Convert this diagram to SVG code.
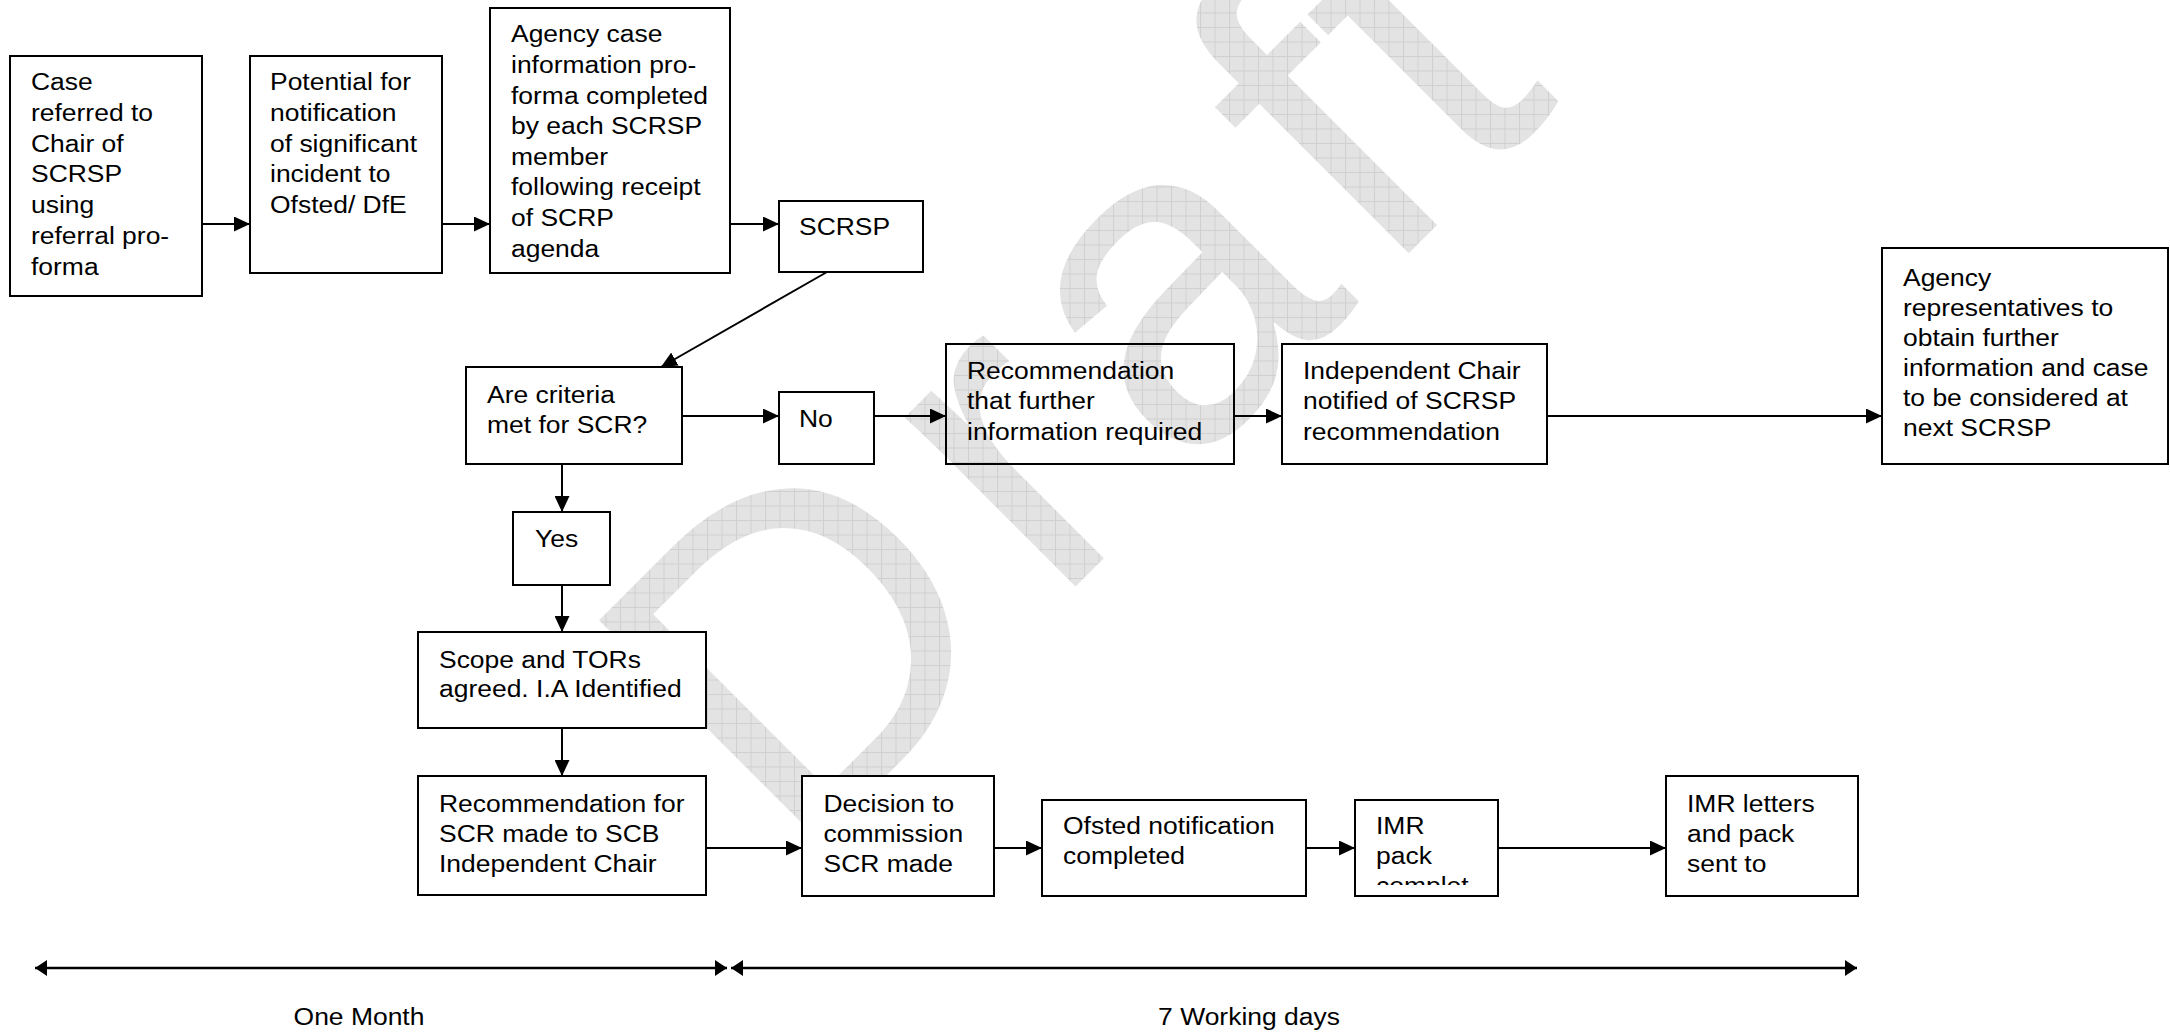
<svg xmlns="http://www.w3.org/2000/svg" width="2170" height="1032" viewBox="0 0 2170 1032">
<style>
.box{fill:#fff;stroke:#000;stroke-width:2}
.boxc{fill:none;stroke:#000;stroke-width:2}
.t{font-family:"Liberation Sans",Arial,sans-serif;font-size:24.5px;fill:#000}
.c{fill:none;stroke:#000;stroke-width:2;marker-end:url(#ah)}
.tl{fill:none;stroke:#000;stroke-width:2.5;marker-start:url(#ah2);marker-end:url(#ah2)}
.wm{font-family:"Liberation Sans",Arial,sans-serif;font-size:455px;fill:url(#grid)}
</style>
<defs>
<marker id="ah" markerUnits="userSpaceOnUse" markerWidth="16" markerHeight="15" refX="16" refY="7.5" orient="auto"><path d="M0,0 L16,7.5 L0,15 z" fill="#000"/></marker>
<marker id="ah2" markerUnits="userSpaceOnUse" markerWidth="12" markerHeight="16" refX="12" refY="8" orient="auto-start-reverse"><path d="M0,0 L12,8 L0,16 z" fill="#000"/></marker>
<pattern id="grid" width="14.5" height="14.5" patternUnits="userSpaceOnUse" patternTransform="rotate(45)"><rect width="14.5" height="14.5" fill="#e3e3e3"/><path d="M0,0.5 H14.5 M0.5,0 V14.5" stroke="#d0d0d0" stroke-width="1"/></pattern>
<clipPath id="clip3"><rect x="490" y="8" width="240" height="254"/></clipPath>
<clipPath id="clipImr"><rect x="1355" y="800" width="143" height="85"/></clipPath>
</defs>
<rect width="2170" height="1032" fill="#fff"/>
<g id="watermark"><text class="wm" x="0" y="0" dx="0 38 29 29 4" transform="translate(794 868) rotate(-45)">Draft</text></g>

<g id="n1"><rect class="box" x="10" y="56" width="192" height="240"/>
<text class="t" transform="translate(31 0) scale(1.08 1)"><tspan x="0" y="90">Case</tspan><tspan x="0" y="120.8">referred to</tspan><tspan x="0" y="151.6">Chair of</tspan><tspan x="0" y="182.4">SCRSP</tspan><tspan x="0" y="213.2">using</tspan><tspan x="0" y="244">referral pro-</tspan><tspan x="0" y="274.8">forma</tspan></text></g>

<g id="n2"><rect class="box" x="250" y="56" width="192" height="217"/>
<text class="t" transform="translate(270 0) scale(1.08 1)"><tspan x="0" y="90">Potential for</tspan><tspan x="0" y="120.8">notification</tspan><tspan x="0" y="151.6">of significant</tspan><tspan x="0" y="182.4">incident to</tspan><tspan x="0" y="213.2">Ofsted/ DfE</tspan></text></g>

<g id="n3"><rect class="box" x="490" y="8" width="240" height="265"/>
<g clip-path="url(#clip3)"><text class="t" transform="translate(511 0) scale(1.08 1)"><tspan x="0" y="42.5">Agency case</tspan><tspan x="0" y="73.1">information pro-</tspan><tspan x="0" y="103.7">forma completed</tspan><tspan x="0" y="134.3">by each SCRSP</tspan><tspan x="0" y="164.9">member</tspan><tspan x="0" y="195.5">following receipt</tspan><tspan x="0" y="226.1">of SCRP</tspan><tspan x="0" y="256.7">agenda</tspan></text></g></g>

<g id="n4"><rect class="box" x="779" y="201" width="144" height="71"/>
<text class="t" transform="translate(799 0) scale(1.08 1)"><tspan x="0" y="235">SCRSP</tspan></text></g>

<g id="n5"><rect class="box" x="466" y="367" width="216" height="97"/>
<text class="t" transform="translate(487 0) scale(1.08 1)"><tspan x="0" y="403.5">Are criteria</tspan><tspan x="0" y="433.5">met for SCR?</tspan></text></g>

<g id="n6"><rect class="box" x="779" y="392" width="95" height="72"/>
<text class="t" transform="translate(799 0) scale(1.08 1)"><tspan x="0" y="427.5">No</tspan></text></g>

<g id="n7"><rect class="boxc" x="946" y="344" width="288" height="120"/>
<text class="t" transform="translate(967 0) scale(1.08 1)"><tspan x="0" y="379">Recommendation</tspan><tspan x="0" y="409.5">that further</tspan><tspan x="0" y="440">information required</tspan></text></g>

<g id="n8"><rect class="box" x="1282" y="344" width="265" height="120"/>
<text class="t" transform="translate(1303 0) scale(1.08 1)"><tspan x="0" y="379">Independent Chair</tspan><tspan x="0" y="409.5">notified of SCRSP</tspan><tspan x="0" y="440">recommendation</tspan></text></g>

<g id="n9"><rect class="box" x="1882" y="248" width="286" height="216"/>
<text class="t" transform="translate(1903 0) scale(1.08 1)"><tspan x="0" y="286.5">Agency</tspan><tspan x="0" y="316.5">representatives to</tspan><tspan x="0" y="346.5">obtain further</tspan><tspan x="0" y="376.5">information and case</tspan><tspan x="0" y="406.5">to be considered at</tspan><tspan x="0" y="436.5">next SCRSP</tspan></text></g>

<g id="n10"><rect class="box" x="513" y="512" width="97" height="73"/>
<text class="t" transform="translate(535 0) scale(1.08 1)"><tspan x="0" y="547">Yes</tspan></text></g>

<g id="n11"><rect class="box" x="418" y="632" width="288" height="96"/>
<text class="t" transform="translate(439 0) scale(1.08 1)"><tspan x="0" y="668">Scope and TORs</tspan><tspan x="0" y="697.5">agreed. I.A Identified</tspan></text></g>

<g id="n12"><rect class="box" x="418" y="776" width="288" height="119"/>
<text class="t" transform="translate(439 0) scale(1.08 1)"><tspan x="0" y="812">Recommendation for</tspan><tspan x="0" y="842">SCR made to SCB</tspan><tspan x="0" y="872">Independent Chair</tspan></text></g>

<g id="n13"><rect class="box" x="802" y="776" width="192" height="120"/>
<text class="t" transform="translate(823.5 0) scale(1.08 1)"><tspan x="0" y="811.7">Decision to</tspan><tspan x="0" y="841.7">commission</tspan><tspan x="0" y="871.7">SCR made</tspan></text></g>

<g id="n14"><rect class="box" x="1042" y="800" width="264" height="96"/>
<text class="t" transform="translate(1063 0) scale(1.08 1)"><tspan x="0" y="834.3">Ofsted notification</tspan><tspan x="0" y="864.3">completed</tspan></text></g>

<g id="n15"><rect class="box" x="1355" y="800" width="143" height="96"/>
<g clip-path="url(#clipImr)"><text class="t" transform="translate(1376 0) scale(1.08 1)"><tspan x="0" y="834.3">IMR</tspan><tspan x="0" y="864.3">pack</tspan><tspan x="0" y="894.3">complet</tspan></text></g></g>

<g id="n16"><rect class="box" x="1666" y="776" width="192" height="120"/>
<text class="t" transform="translate(1687 0) scale(1.08 1)"><tspan x="0" y="811.7">IMR letters</tspan><tspan x="0" y="841.7">and pack</tspan><tspan x="0" y="871.7">sent to</tspan></text></g>

<g id="connectors">
<path class="c" d="M202,224 H250"/>
<path class="c" d="M442,224 H490"/>
<path class="c" d="M730,224 H779"/>
<path class="c" d="M827,272 L661,367"/>
<path class="c" d="M682,416 H779"/>
<path class="c" d="M874,416 H946"/>
<path class="c" d="M1234,416 H1282"/>
<path class="c" d="M1547,416 H1882"/>
<path class="c" d="M562,464 V512"/>
<path class="c" d="M562,585 V632"/>
<path class="c" d="M562,728 V776"/>
<path class="c" d="M706,848 H802"/>
<path class="c" d="M994,848 H1042"/>
<path class="c" d="M1306,848 H1355"/>
<path class="c" d="M1498,848 H1666"/>
</g>

<g id="timeline">
<path class="tl" d="M35,968 H727"/>
<path class="tl" d="M731,968 H1857"/>
<text class="t" text-anchor="middle" transform="translate(359 0) scale(1.08 1)"><tspan x="0" y="1025">One Month</tspan></text>
<text class="t" text-anchor="middle" transform="translate(1249 0) scale(1.08 1)"><tspan x="0" y="1025">7 Working days</tspan></text>
</g>
</svg>
